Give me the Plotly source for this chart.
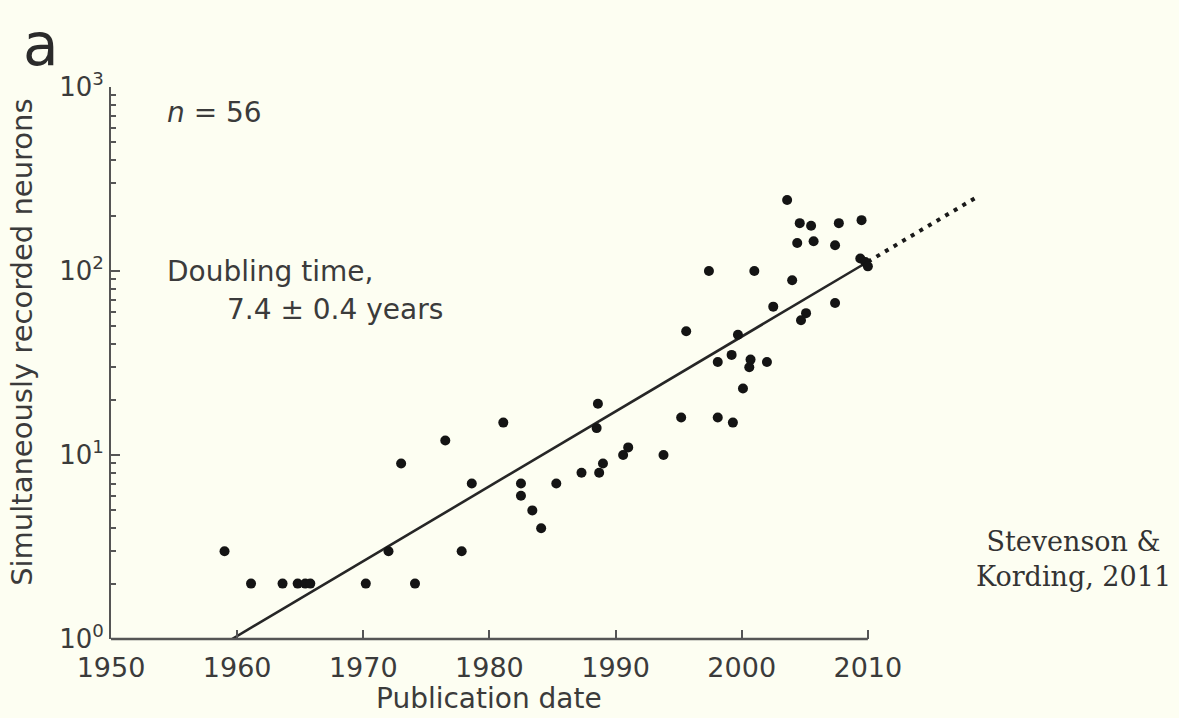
import numpy as np
import plotly.graph_objects as go

# Publication year and number of simultaneously recorded neurons
pub_year = [
    1959.0, 1961.1, 1963.6, 1964.8, 1965.4, 1965.8, 1970.2, 1972.0, 1973.0, 1974.1,
    1976.5, 1977.8, 1978.6, 1981.1, 1982.5, 1982.5, 1983.4, 1984.1, 1985.3, 1987.3,
    1988.5, 1988.6, 1988.7, 1989.0, 1990.6, 1991.0, 1993.8, 1995.2, 1995.6, 1997.4,
    1998.1, 1998.1, 1999.2, 1999.3, 1999.7, 2000.1, 2000.6, 2000.7, 2001.0, 2002.0,
    2002.5, 2003.6, 2004.0, 2004.4, 2004.6, 2004.7, 2005.1, 2005.5, 2005.7, 2007.4,
    2007.4, 2007.7, 2009.4, 2009.5, 2009.8, 2010.0,
]
neurons = [
    3, 2, 2, 2, 2, 2, 2, 3, 9, 2,
    12, 3, 7, 15, 7, 6, 5, 4, 7, 8,
    14, 19, 8, 9, 10, 11, 10, 16, 47, 100,
    16, 32, 35, 15, 45, 23, 30, 33, 100, 32,
    64, 243, 89, 142, 182, 54, 59, 176, 145, 138,
    67, 182, 117, 189, 112, 106,
]

# Exponential fit: doubling time and the year where the fit crosses one neuron
doubling_time = 7.4
fit_origin = 1959.6
fit_end = 2010.0
extrap_end = 2018.5

x_ticks = [1950, 1960, 1970, 1980, 1990, 2000, 2010]
y_ticks = [1, 10, 100, 1000]
y_ticktext = ["10<sup>0</sup>", "10<sup>1</sup>", "10<sup>2</sup>", "10<sup>3</sup>"]

rate = np.log10(2) / doubling_time
fit_x = np.array([fit_origin, fit_end])
ext_x = np.array([fit_end, extrap_end])

ink = "#3b3b3b"
axis_col = "#555555"
bg = "#FDFEF2"
sans = "DejaVu Sans"

fig = go.Figure()
fig.add_trace(go.Scatter(
    x=fit_x, y=10 ** ((fit_x - fit_origin) * rate), mode="lines",
    line=dict(color="#262626", width=2.6), hoverinfo="skip",
))
fig.add_trace(go.Scatter(
    x=ext_x, y=10 ** ((ext_x - fit_origin) * rate), mode="lines",
    line=dict(color="#1a1a1a", width=4, dash="4px,6px"), hoverinfo="skip",
))
fig.add_trace(go.Scatter(
    x=pub_year, y=neurons, mode="markers",
    marker=dict(color="#141414", size=10), cliponaxis=False,
))

fig.update_layout(
    width=1179, height=718,
    margin=dict(l=111, r=185, t=87, b=79),
    paper_bgcolor=bg, plot_bgcolor=bg,
    showlegend=False,
    font=dict(family=sans, color=ink, size=27),
    xaxis=dict(
        range=[1950, 2020], tickvals=x_ticks, ticks="inside", ticklen=9,
        tickwidth=2, tickcolor=axis_col, showline=False, showgrid=False,
        zeroline=False, tickfont=dict(size=27, color=ink), ticklabelstandoff=10,
    ),
    yaxis=dict(
        type="log", range=[0, 3], tickvals=y_ticks, ticktext=y_ticktext,
        ticks="inside", ticklen=9, tickwidth=2, tickcolor=axis_col,
        showline=True, linecolor=axis_col, linewidth=2, showgrid=False,
        zeroline=False, tickfont=dict(size=26, color=ink),
        minor=dict(ticks="inside", ticklen=5, tickwidth=1.5, tickcolor=axis_col,
                   dtick="D1", showgrid=False),
    ),
)

# bottom axis line only spans the labelled years
fig.add_shape(type="line", xref="x", yref="paper", x0=1950, x1=2010, y0=0, y1=0,
              line=dict(color=axis_col, width=2.5))

fig.add_annotation(x=1980, y=-0.1413, xref="x", yref="paper",
                   xanchor="center", yanchor="bottom",
                   text="Publication date", showarrow=False,
                   font=dict(size=28, color=ink))
fig.add_annotation(x=-0.101, y=0.538, xref="paper", yref="paper", textangle=-90,
                   xanchor="center", yanchor="middle",
                   text="Simultaneously recorded neurons", showarrow=False,
                   font=dict(size=29, color=ink))
fig.add_annotation(x=-0.102, y=1.076, xref="paper", yref="paper",
                   xanchor="left", yanchor="middle",
                   text="a", showarrow=False, font=dict(size=58, color="#2b2b2b"))
fig.add_annotation(x=1954.3, y=2.86, xref="x", yref="y", xanchor="left",
                   text="<i>n</i> = 56", showarrow=False, font=dict(size=28, color=ink))
fig.add_annotation(x=1954.3, y=2.0, xref="x", yref="y", xanchor="left",
                   text="Doubling time,", showarrow=False, font=dict(size=28, color=ink))
fig.add_annotation(x=1959.0, y=1.79, xref="x", yref="y", xanchor="left",
                   text="7.4 ± 0.4 years", showarrow=False, font=dict(size=28, color=ink))
fig.add_annotation(x=1.09, y=0.145, xref="paper", yref="paper",
                   xanchor="center", yanchor="middle",
                   text="Stevenson &amp;<br>Kording, 2011", showarrow=False,
                   font=dict(family="DejaVu Serif", size=27, color="#333333"))

fig.write_html("out.html")
